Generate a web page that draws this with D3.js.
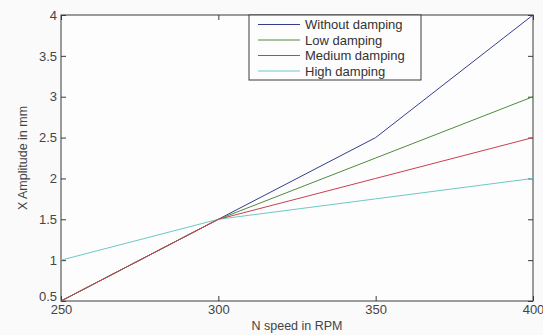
<!DOCTYPE html>
<html><head><meta charset="utf-8">
<script src="https://cdn.jsdelivr.net/npm/d3@7"></script>
<style>body{margin:0;background:#fafafa;} text{font-family:"Liberation Sans",Arial,sans-serif;}</style>
</head><body>
<svg id="c" width="543" height="335"></svg>
<script>
const speeds = [250, 300, 350, 400];
const withoutDamping = [0.5, 1.5, 2.5, 4.0];
const lowDamping = [0.5, 1.5, 2.25, 3.0];
const mediumDamping = [0.5, 1.5, 2.0, 2.5];
const highDamping = [1.0, 1.5, 1.75, 2.0];
const seriesNames = ["Without damping", "Low damping", "Medium damping", "High damping"];
const seriesColors = ["#333d8f", "#4f8a3e", "#c8404e", "#6cc9c3"];
const xTicks = [250, 300, 350, 400];
const yTicks = [0.5, 1, 1.5, 2, 2.5, 3, 3.5, 4];

const svg = d3.select("#c");
const m = {l: 61, r: 533, t: 15, b: 301};
const x = d3.scaleLinear().domain([250, 400]).range([m.l, m.r]);
const y = d3.scaleLinear().domain([0.5, 4]).range([m.b, m.t]);
const ink = "#3a3a3a";

svg.append("rect").attr("x", m.l).attr("y", m.t).attr("width", m.r - m.l).attr("height", m.b - m.t)
  .attr("fill", "#fdfdfd").attr("stroke", "none");

const fmt = d => String(d);
const ax = svg.append("g").attr("transform", `translate(0,${m.b})`)
  .call(d3.axisBottom(x).tickValues(xTicks).tickFormat(fmt).tickSizeInner(-5).tickSizeOuter(0).tickPadding(4));
const ay = svg.append("g").attr("transform", `translate(${m.l},0)`)
  .call(d3.axisLeft(y).tickValues(yTicks).tickFormat(fmt).tickSizeInner(-5).tickSizeOuter(0).tickPadding(4));
const axT = svg.append("g").attr("transform", `translate(0,${m.t})`)
  .call(d3.axisTop(x).tickValues(xTicks).tickFormat("").tickSizeInner(-5).tickSizeOuter(0));
const ayR = svg.append("g").attr("transform", `translate(${m.r},0)`)
  .call(d3.axisRight(y).tickValues(yTicks).tickFormat("").tickSizeInner(-5).tickSizeOuter(0));
[ax, ay, axT, ayR].forEach(g => {
  g.select(".domain").remove();
  g.selectAll("line").attr("stroke", ink);
  g.selectAll("text").attr("fill", "#444").style("font-size", "13px");
});
ax.selectAll("text").attr("dy", "0.7em");
ay.selectAll(".tick").filter(d => d === 0.5).select("text").attr("dy", "-0.05em");

svg.append("rect").attr("x", m.l).attr("y", m.t).attr("width", m.r - m.l).attr("height", m.b - m.t)
  .attr("fill", "none").attr("stroke", ink).attr("stroke-width", 1);

const allSeries = [withoutDamping, lowDamping, mediumDamping, highDamping];
const line = d3.line().x((d, i) => x(speeds[i])).y(d => y(d));
[0, 1, 3, 2].forEach(k => {
  svg.append("path").datum(allSeries[k]).attr("d", line)
    .attr("fill", "none").attr("stroke", seriesColors[k]).attr("stroke-width", 1);
});

const lg = svg.append("g");
lg.append("rect").attr("x", 249).attr("y", m.t).attr("width", 172).attr("height", 65)
  .attr("fill", "#fdfdfd").attr("stroke", ink);
seriesNames.forEach((n, i) => {
  const yy = 24.5 + i * 15.5;
  lg.append("line").attr("x1", 258).attr("x2", 300).attr("y1", yy).attr("y2", yy)
    .attr("stroke", seriesColors[i]).attr("stroke-width", 1);
  lg.append("text").attr("x", 305).attr("y", yy).attr("dy", "0.35em")
    .style("font-size", "13px").attr("fill", "#333").text(n);
});

svg.append("text").attr("x", (m.l + m.r) / 2).attr("y", 330).attr("text-anchor", "middle")
  .style("font-size", "12.5px").attr("fill", "#444").text("N speed in RPM");
svg.append("text").attr("transform", `translate(23,${(m.t + m.b) / 2}) rotate(-90)`)
  .attr("text-anchor", "middle").attr("dy", "0.35em")
  .style("font-size", "12.5px").attr("fill", "#444").text("X Amplitude in mm");
</script>
</body></html>
